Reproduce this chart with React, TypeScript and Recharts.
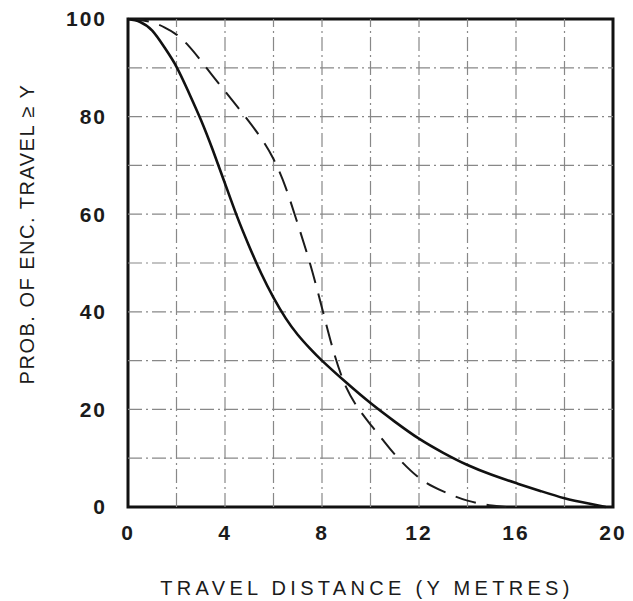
import React from 'react';
import { LineChart, Line, XAxis, YAxis, ReferenceLine, ReferenceArea, Label } from 'recharts';

const solidX = [0, 0.5, 1, 1.5, 2, 2.5, 3, 3.5, 4, 4.5, 5, 5.5, 6, 6.5, 7, 7.5, 8, 9, 10, 11, 12, 13, 14, 15, 16, 17, 18, 19, 19.7];
const solidY = [100, 99.4, 97.6, 94.2, 90.2, 85.0, 79.4, 73.1, 66.3, 59.5, 53.4, 47.8, 42.9, 38.7, 35.3, 32.5, 30.0, 25.5, 21.3, 17.5, 14.0, 11.1, 8.6, 6.6, 4.9, 3.3, 1.8, 0.7, 0];

const dashedX = [0, 0.5, 1, 1.5, 2, 2.5, 3, 3.5, 4, 4.5, 5, 5.5, 6, 6.5, 7, 7.5, 8, 8.5, 9, 9.5, 10, 10.5, 11, 12, 13, 14, 15, 15.6];
const dashedY = [100, 99.8, 99.3, 98.3, 96.8, 94.5, 91.5, 88.3, 85.2, 82.1, 78.9, 75.5, 71.3, 65.5, 58, 50, 40.8, 31.5, 24.5, 20.2, 16.9, 13.8, 10.8, 6, 3.2, 1.3, 0.3, 0];

const xTicks = [0, 4, 8, 12, 16, 20];
const yTicks = [0, 20, 40, 60, 80, 100];
const xGrid = [2, 4, 6, 8, 10, 12, 14, 16, 18];
const yGrid = [10, 20, 30, 40, 50, 60, 70, 80, 90];

const xTitle = 'TRAVEL DISTANCE (Y METRES)';
const yTitle = 'PROB. OF ENC. TRAVEL \u2265 Y';

const solidData = solidX.map((x, i) => ({ x, y: solidY[i] }));
const dashedData = dashedX.map((x, i) => ({ x, y: dashedY[i] }));

const FONT = '"Liberation Sans", Arial, Helvetica, sans-serif';
const tickStyle = { fontSize: 21, fontWeight: 'bold', fill: '#1b1b1b', fontFamily: FONT, letterSpacing: 2 } as any;
const gridDash = '14 4 2 4';

export default function App() {
  return (
    <div style={{ position: 'absolute', left: 0, top: 0, background: '#fff' }}>
      <LineChart width={633} height={601} margin={{ top: 19, right: 20, left: 0, bottom: 0 }}>
        <XAxis
          dataKey="x"
          type="number"
          domain={[0, 20]}
          ticks={xTicks}
          allowDataOverflow
          height={94}
          tickLine={false}
          tickSize={0}
          tickMargin={18}
          axisLine={false}
          tick={tickStyle}
          interval={0}
        >
          <Label
            content={() => (
              <text x={367} y={595} textAnchor="middle" fontSize={20} fontFamily={FONT} fill="#1b1b1b" letterSpacing={4.3}>
                {xTitle}
              </text>
            )}
          />
        </XAxis>
        <YAxis
          type="number"
          domain={[0, 100]}
          ticks={yTicks}
          width={128}
          tickLine={false}
          tickSize={0}
          tickMargin={21}
          axisLine={false}
          tick={tickStyle}
          interval={0}
        >
          <Label
            content={() => (
              <text
                x={27}
                y={234}
                transform="rotate(-90 27 234)"
                textAnchor="middle"
                dominantBaseline="central"
                fontSize={20}
                fontFamily={FONT}
                fill="#1b1b1b"
                letterSpacing={1.5}
              >
                {yTitle}
              </text>
            )}
          />
        </YAxis>
        {xGrid.map((v) => (
          <ReferenceLine key={'gx' + v} x={v} stroke="#888" strokeWidth={1.2} strokeDasharray={gridDash} />
        ))}
        {yGrid.map((v) => (
          <ReferenceLine key={'gy' + v} y={v} stroke="#888" strokeWidth={1.2} strokeDasharray={gridDash} />
        ))}
        <Line
          data={dashedData}
          dataKey="y"
          type="natural"
          stroke="#1b1b1b"
          strokeWidth={2}
          strokeDasharray="21 11"
          dot={false}
          activeDot={false}
          isAnimationActive={false}
        />
        <Line
          data={solidData}
          dataKey="y"
          type="natural"
          stroke="#111"
          strokeWidth={2.6}
          dot={false}
          activeDot={false}
          isAnimationActive={false}
        />
        <ReferenceArea x1={0} x2={20} y1={0} y2={100} fill="none" fillOpacity={0} stroke="#111" strokeWidth={3} ifOverflow="visible" />
      </LineChart>
    </div>
  );
}
